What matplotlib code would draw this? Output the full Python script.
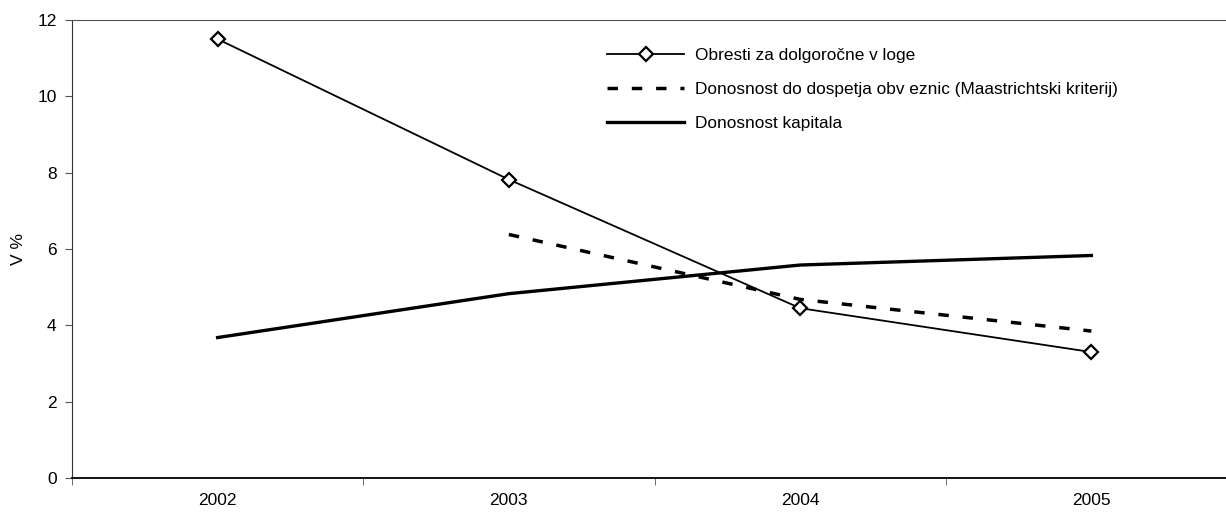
import numpy as np
import matplotlib
matplotlib.use('Agg')
import matplotlib.pyplot as plt

plt.rcParams['font.family'] = ['Liberation Sans', 'DejaVu Sans']

years = ['2002', '2003', '2004', '2005']
obresti = [11.5, 7.82, 4.45, 3.3]
donosnost_obveznic = [np.nan, 6.38, 4.68, 3.85]
donosnost_kapitala = [3.68, 4.83, 5.58, 5.83]

label_obresti = 'Obresti za dolgoročne v loge'
label_obveznic = 'Donosnost do dospetja obv eznic (Maastrichtski kriterij)'
label_kapitala = 'Donosnost kapitala'

fig = plt.figure(figsize=(12.26, 5.13), dpi=100)
ax = fig.add_axes([72 / 1226, 35 / 513, 1165 / 1226, 458 / 513])

x = np.arange(len(years))
ax.plot(x, obresti, color='black', lw=1.3, marker='D', markersize=7.5,
        markerfacecolor='white', markeredgecolor='black', markeredgewidth=1.6,
        label=label_obresti)
ax.plot(x, donosnost_obveznic, color='black', lw=2.5, dashes=(3.0, 4.0),
        label=label_obveznic)
ax.plot(x, donosnost_kapitala, color='black', lw=2.4, label=label_kapitala)

ax.set_xlim(-0.5, len(years) - 0.5)
ax.set_ylim(0, 12)
ax.set_yticks(np.arange(0, 13, 2))
ax.set_xticks(x)
ax.set_xticklabels(years)
ax.set_xticks(np.arange(-0.5, len(years), 1), minor=True)
ax.tick_params(axis='x', which='major', length=0, pad=11, labelsize=12.5)
ax.tick_params(axis='x', which='minor', length=5, color='#555555')
ax.tick_params(axis='y', length=5, color='#555555', labelsize=12.5, pad=6)
ax.set_ylabel('V %', fontsize=12.5, labelpad=8)

ax.spines['right'].set_visible(False)
ax.spines['top'].set_color('#555555')
ax.spines['left'].set_color('#333333')
ax.spines['bottom'].set_color('black')
ax.spines['bottom'].set_linewidth(1.3)

ax.legend(loc='upper left', bbox_to_anchor=(600 / 1226, 1 - 41 / 513),
          bbox_transform=fig.transFigure, frameon=False, fontsize=12.4,
          handlelength=4.5, labelspacing=1.1, handletextpad=0.6,
          borderaxespad=0)

fig.savefig('out.png', dpi=100)
